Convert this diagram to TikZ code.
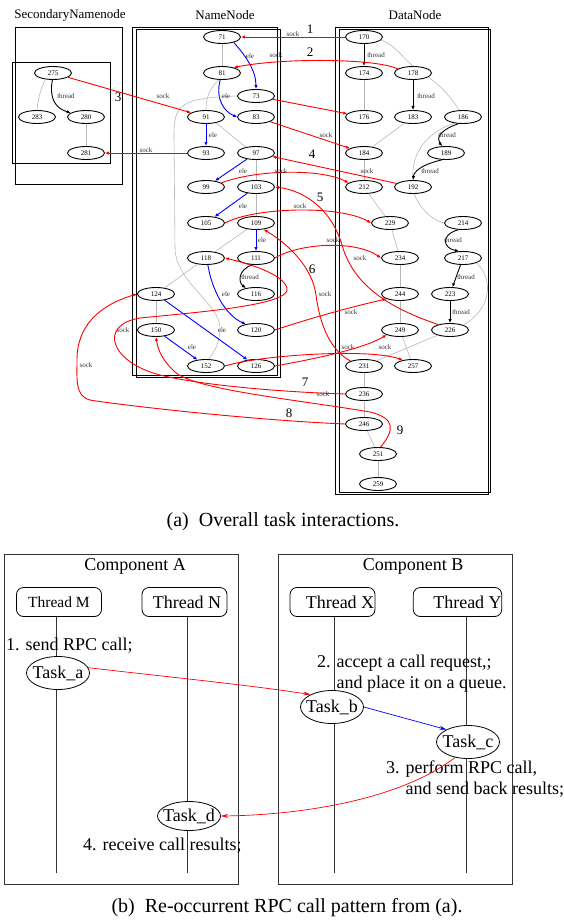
\documentclass[tikz,border=0pt]{standalone}
\usepackage{fontspec}
\setmainfont{Liberation Serif}
\usetikzlibrary{arrows.meta,shapes.geometric}

\begin{document}
\begin{tikzpicture}[x=1pt,y=-1pt,>={Latex[length=4pt,width=3.4pt]},
  tsk/.style={draw,ellipse,line width=0.9pt,minimum width=37pt,minimum height=13pt,inner sep=0pt,font=\fontsize{7}{8}\selectfont},
  lbl/.style={font=\fontsize{7}{8}\selectfont,inner sep=0pt,text=black!80},
  num/.style={font=\fontsize{13}{14}\selectfont,inner sep=0pt},
  ttl/.style={font=\fontsize{13}{15}\selectfont,inner sep=0pt},
  gry/.style={black!28,line width=0.6pt},
  ele/.style={->,blue,line width=0.9pt},
  thr/.style={->,black,line width=0.9pt},
  sock/.style={->,red,line width=0.9pt},
  big/.style={font=\fontsize{18}{21}\selectfont,inner sep=0pt},
  captxt/.style={font=\fontsize{20}{22}\selectfont,inner sep=0pt},
  thbox/.style={draw,line width=0.8pt,rounded corners=7pt,minimum width=85pt,minimum height=29pt,inner sep=0pt,font=\fontsize{18}{20}\selectfont},
  task/.style={draw,ellipse,line width=0.8pt,fill=white,minimum width=63pt,minimum height=33pt,inner xsep=-5pt,inner ysep=2pt,font=\fontsize{18}{20}\selectfont},
  life/.style={black!80,line width=0.8pt},
  call/.style={-{Stealth[length=7pt,width=4pt]},line width=0.7pt}]
  \useasboundingbox (0,0) rectangle (564,921);

  \node[ttl] (tsec) at (70,15) {SecondaryNamenode};
  \node[ttl] (tnam) at (225,15) {NameNode};
  \node[ttl] (tdat) at (415,15) {DataNode};
  \draw[line width=0.8pt] (15,27) rectangle (122,184);
  \draw[line width=0.8pt] (12,62) rectangle (110,163);
  \draw[line width=0.8pt] (132,27) rectangle (277,375);
  \draw[line width=0.8pt] (136,29) rectangle (280,377);
  \draw[line width=0.8pt] (335,27) rectangle (488,494);
  \draw[line width=0.8pt] (339,29) rectangle (490,492);

  \node[tsk] (n275) at (53,73) {275};
  \node[tsk] (n283) at (37,117) {283};
  \node[tsk] (n280) at (86,117) {280};
  \node[tsk] (n281) at (86,153) {281};

  \node[tsk] (n71) at (222,37) {71};
  \node[tsk] (n81) at (222,73) {81};
  \node[tsk] (n73) at (256,96) {73};
  \node[tsk] (n91) at (206,117) {91};
  \node[tsk] (n83) at (256,117) {83};
  \node[tsk] (n93) at (206,153) {93};
  \node[tsk] (n97) at (256,153) {97};
  \node[tsk] (n99) at (206,187) {99};
  \node[tsk] (n103) at (256,187) {103};
  \node[tsk] (n105) at (206,223) {105};
  \node[tsk] (n109) at (256,223) {109};
  \node[tsk] (n118) at (206,258) {118};
  \node[tsk] (n111) at (256,258) {111};
  \node[tsk] (n124) at (156,294) {124};
  \node[tsk] (n116) at (256,294) {116};
  \node[tsk] (n150) at (156,330) {150};
  \node[tsk] (n120) at (256,330) {120};
  \node[tsk] (n152) at (206,366) {152};
  \node[tsk] (n126) at (256,366) {126};

  \node[tsk] (n170) at (364,37) {170};
  \node[tsk] (n174) at (364,73) {174};
  \node[tsk] (n178) at (413,73) {178};
  \node[tsk] (n176) at (364,117) {176};
  \node[tsk] (n183) at (413,117) {183};
  \node[tsk] (n186) at (463,117) {186};
  \node[tsk] (n184) at (364,153) {184};
  \node[tsk] (n189) at (446,153) {189};
  \node[tsk] (n212) at (364,187) {212};
  \node[tsk] (n192) at (413,187) {192};
  \node[tsk] (n229) at (390,223) {229};
  \node[tsk] (n214) at (463,223) {214};
  \node[tsk] (n234) at (400,258) {234};
  \node[tsk] (n217) at (463,258) {217};
  \node[tsk] (n244) at (400,294) {244};
  \node[tsk] (n223) at (450,294) {223};
  \node[tsk] (n249) at (400,330) {249};
  \node[tsk] (n226) at (450,330) {226};
  \node[tsk] (n231) at (364,366) {231};
  \node[tsk] (n257) at (413,366) {257};
  \node[tsk] (n236) at (364,394) {236};
  \node[tsk] (n246) at (364,424) {246};
  \node[tsk] (n251) at (378,454) {251};
  \node[tsk] (n259) at (378,484) {259};

  \draw[gry] (n275.220) .. controls (40,90) and (38,100) .. (n283.north);
  \draw[thr] (n275.265) .. controls (49,98) and (55,108) .. (n280.165);
  \draw[gry] (n280) -- (n281);

  \draw[gry] (n71) -- (n81);
  \draw[ele] (n71.-25) .. controls (245,55) and (256,70) .. (n73.north);
  \draw[ele] (n81.-105) .. controls (215,100) and (225,112) .. (n83.west);
  \draw[gry] (n81.-115) .. controls (208,90) and (206,100) .. (n91.north);
  \draw[gry] (n73.west) .. controls (180,98) and (174,105) .. (174,135) -- (175,250)
    .. controls (178,285) and (222,305) .. (220,330) .. controls (219,345) and (214,352) .. (n152.70);
  \draw[ele] (n91) -- (n93);
  \draw[gry] (n91.-30) -- (n97.150);
  \draw[ele] (n97) -- (n99);
  \draw[gry] (n97) -- (n103);
  \draw[ele] (n103) -- (n105);
  \draw[gry] (n103) -- (n109);
  \draw[ele] (n109) -- (n111);
  \draw[gry] (n109) -- (n118);
  \draw[thr] (n111.-120) .. controls (238,270) and (238,282) .. (n116.150);
  \draw[ele] (n118.-75) .. controls (212,290) and (225,315) .. (n120.150);
  \draw[gry] (n118) -- (n124);
  \draw[ele] (n124) -- (n126);
  \draw[gry] (n124) -- (n150);
  \draw[ele] (n150) -- (n152);

  \draw[thr] (n170) -- (n174);
  \draw[gry] (n170.-10) .. controls (395,45) and (403,58) .. (n178.north);
  \draw[gry] (n174) -- (n176);
  \draw[thr] (n178) -- (n183);
  \draw[gry] (n178.-15) .. controls (440,85) and (452,98) .. (n186.120);
  \draw[gry] (n183) -- (n184);
  \draw[thr] (n186.235) .. controls (440,130) and (436,138) .. (n189.120);
  \draw[gry] (n186.215) .. controls (420,135) and (411,160) .. (n192.north);
  \draw[thr] (n189.240) .. controls (420,165) and (414,172) .. (n192.north);
  \draw[gry] (n184) -- (n212);
  \draw[gry] (n212) -- (n229);
  \draw[gry] (n192.-80) .. controls (418,205) and (430,220) .. (n214.west);
  \draw[thr] (n214.235) .. controls (440,235) and (443,248) .. (n217.120);
  \draw[gry] (n229) -- (n234);
  \draw[gry] (n234) -- (n244);
  \draw[thr] (n217) -- (n223);
  \draw[gry] (n217.-20) .. controls (495,280) and (490,310) .. (n226.20);
  \draw[thr] (n223) -- (n226);
  \draw[gry] (n244) -- (n249);
  \draw[gry] (n249) -- (n257);
  \draw[gry] (n226) -- (n231);
  \draw[gry] (n231) -- (n236);
  \draw[gry] (n236) -- (n246);
  \draw[gry] (n246) -- (n251);
  \draw[gry] (n251) -- (n259);

  \draw[sock] (n170) -- (n71);
  \draw[sock] (n178.165) .. controls (375,58) and (280,58) .. (n81.25);
  \draw[sock] (n275) -- (n91);
  \draw[sock] (n93) -- (n281);
  \draw[sock] (n73) -- (n176);
  \draw[sock] (n83) -- (n184);
  \draw[sock] (n192) -- (n97);
  \draw[sock] (n99.15) .. controls (255,170) and (320,168) .. (n212.165);
  \draw[sock] (n226.155) .. controls (380,305) and (352,280) .. (342,245) .. controls (330,205) and (300,190) .. (n103.east);
  \draw[sock] (n105.east) .. controls (255,207) and (340,205) .. (n229.west);
  \draw[sock] (n111.east) .. controls (300,243) and (355,240) .. (n234.west);
  \draw[sock] (n231.160) .. controls (330,350) and (320,325) .. (316,295) .. controls (312,265) and (285,242) .. (n109.-40);
  \draw[sock] (n120.east) .. controls (320,315) and (360,305) .. (n244.200);
  \draw[sock] (n126.east) .. controls (320,358) and (365,348) .. (n249.200);
  \draw[sock] (n152.east) .. controls (260,355) and (370,348) .. (n257.150);
  \draw[sock] (n236.west) .. controls (280,392) and (200,385) .. (160,375) .. controls (110,362) and (98,325) .. (140,318)
    .. controls (200,312) and (292,305) .. (287,288) .. controls (283,274) and (250,264) .. (n118.east);
  \draw[sock] (n246.west) .. controls (250,420) and (120,405) .. (90,400) .. controls (75,396) and (77,380) .. (77,360)
    .. controls (77,325) and (100,305) .. (n124.west);
  \draw[sock] (n251.70) .. controls (395,430) and (395,418) .. (370,412) .. controls (300,400) and (195,390) .. (175,372)
    .. controls (162,360) and (158,350) .. (n150.south);

  \node[lbl] (s1) at (293,34) {sock};
  \node[lbl] (s2) at (276,55) {sock};
  \node[lbl] (s3) at (163,96) {sock};
  \node[lbl] (s4) at (146,150) {sock};
  \node[lbl] (s5) at (326,135) {sock};
  \node[lbl] (s6) at (281,171) {sock};
  \node[lbl] (s7) at (367,171) {sock};
  \node[lbl] (s8) at (300,206) {sock};
  \node[lbl] (s9) at (333,240) {sock};
  \node[lbl] (s10) at (360,258) {sock};
  \node[lbl] (s11) at (325,294) {sock};
  \node[lbl] (s12) at (351,312) {sock};
  \node[lbl] (s13) at (348,347) {sock};
  \node[lbl] (s14) at (385,347) {sock};
  \node[lbl] (s15) at (123,330) {sock};
  \node[lbl] (s16) at (86,365) {sock};
  \node[lbl] (s17) at (323,394) {sock};

  \node[lbl] (e1) at (250,56) {ele};
  \node[lbl] (e2) at (226,96) {ele};
  \node[lbl] (e3) at (213,135) {ele};
  \node[lbl] (e4) at (243,171) {ele};
  \node[lbl] (e5) at (243,206) {ele};
  \node[lbl] (e6) at (262,240) {ele};
  \node[lbl] (e7) at (226,294) {ele};
  \node[lbl] (e8) at (222,330) {ele};
  \node[lbl] (e9) at (192,347) {ele};

  \node[lbl] (t1) at (66,96) {thread};
  \node[lbl] (t2) at (250,277) {thread};
  \node[lbl] (t3) at (376,55) {thread};
  \node[lbl] (t4) at (426,96) {thread};
  \node[lbl] (t5) at (447,135) {thread};
  \node[lbl] (t6) at (430,171) {thread};
  \node[lbl] (t7) at (453,240) {thread};
  \node[lbl] (t8) at (466,277) {thread};
  \node[lbl] (t9) at (461,312) {thread};

  \node[num] (k1) at (310,29) {1};
  \node[num] (k2) at (310,52) {2};
  \node[num] (k3) at (118,97) {3};
  \node[num] (k4) at (312,154) {4};
  \node[num] (k5) at (320,197) {5};
  \node[num] (k6) at (312,269) {6};
  \node[num] (k7) at (305,382) {7};
  \node[num] (k8) at (289,413) {8};
  \node[num] (k9) at (400,430) {9};

  \node[captxt] (capa) at (283,522) {(a)\enspace Overall task interactions.};

  \draw[line width=0.8pt,black!80] (4,554) rectangle (238,884);
  \draw[line width=0.8pt,black!80] (278,554) rectangle (512,884);
  \node[big] (compa) at (135,566) {Component A};
  \node[big] (compb) at (413,566) {Component B};
  \node[thbox,font=\fontsize{15.5}{17}\selectfont] (thm) at (59,602) {Thread M};
  \node[thbox] (thn) at (184.5,602) {\hspace*{5pt}Thread N};
  \node[thbox] (thx) at (332.5,602) {\hspace*{15pt}Thread X};
  \node[thbox] (thy) at (457.5,602) {\hspace*{20pt}Thread Y};
  \coordinate (em) at (56,873);
  \coordinate (en) at (187,873);
  \coordinate (ex) at (334,873);
  \coordinate (ey) at (466,873);
  \draw[life] (thm.south -| em) -- (em);
  \draw[life] (thn.south -| en) -- (en);
  \draw[life] (thx.south -| ex) -- (ex);
  \draw[life] (thy.south -| ey) -- (ey);

  \node[task] (ta) at (58,673) {Task\_a};
  \node[task] (tb) at (332,707) {Task\_b};
  \node[task] (tc) at (468,742) {Task\_c};
  \node[task,minimum height=29pt] (td) at (189,816) {Task\_d};

  \node[big,anchor=west] (st1) at (6,646) {1. send RPC call;};
  \node[big,anchor=west,align=left] (st2) at (317,673.5) {2. accept a call request,;\\\phantom{2. }and place it on a queue.};
  \node[big,anchor=west,align=left] (st3) at (386,779.5) {3. perform RPC call,\\\phantom{3. }and send back results;};
  \node[big,anchor=west] (st4) at (83,846) {4. receive call results;};

  \draw[call,red] (ta.10) .. controls (150,675) and (250,685) .. (tb.150);
  \draw[call,blue] (tb.east) -- (tc.150);
  \draw[call,red] (tc.-130) .. controls (400,800) and (300,815) .. (td.east);

  \node[captxt] (capb) at (287,908) {(b)\enspace Re-occurrent RPC call pattern from (a).};
\end{tikzpicture}
\end{document}
